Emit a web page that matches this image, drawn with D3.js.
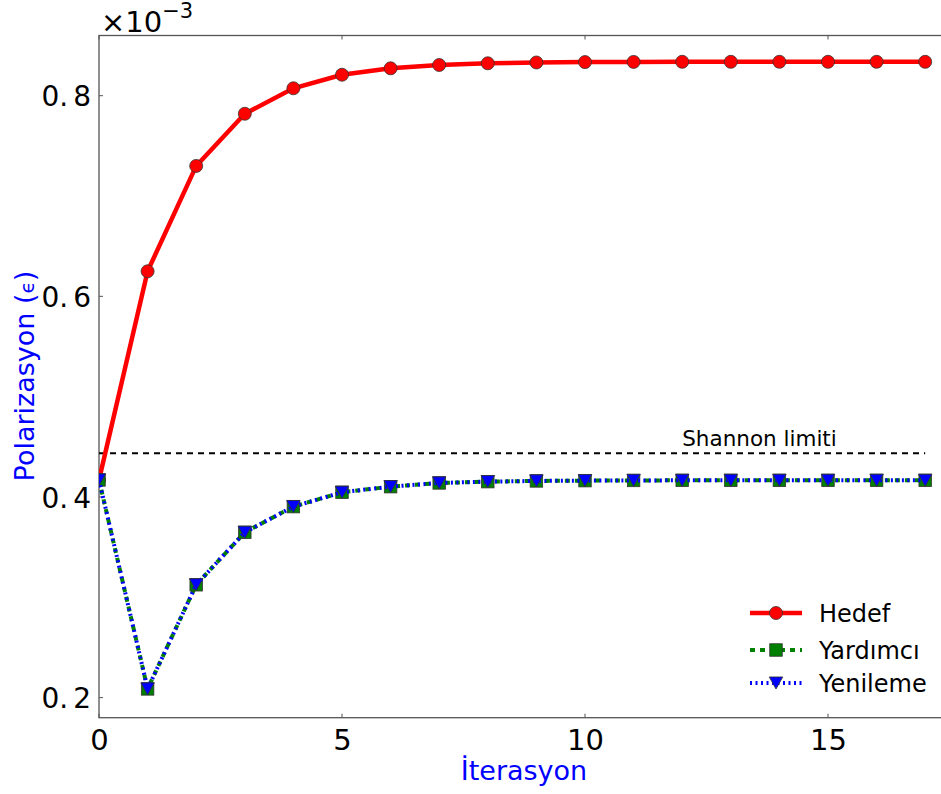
<!DOCTYPE html>
<html>
<head>
<meta charset="utf-8">
<script src="https://cdn.jsdelivr.net/npm/d3@7"></script>
<style>
  html, body { margin: 0; padding: 0; background: #fff; overflow: hidden; }
  svg { display: block; font-family: "DejaVu Sans", sans-serif; }
</style>
</head>
<body>
<script>
// Iteration index and polarization values (units of 1e-3)
const iterations = d3.range(0, 18);
const hedef = [0.417, 0.625, 0.730, 0.782, 0.8074, 0.8209, 0.8273, 0.8306, 0.8323, 0.8331, 0.8335, 0.8337, 0.8338, 0.8338, 0.8338, 0.8338, 0.8338, 0.8338];
const yardimci = [0.417, 0.2087, 0.3125, 0.3648, 0.3904, 0.4047, 0.4103, 0.4140, 0.4153, 0.4160, 0.4163, 0.4165, 0.4166, 0.4166, 0.4166, 0.4166, 0.4166, 0.4166];
const yenileme = [0.417, 0.2087, 0.3125, 0.3648, 0.3904, 0.4047, 0.4103, 0.4140, 0.4153, 0.4160, 0.4163, 0.4165, 0.4166, 0.4166, 0.4166, 0.4166, 0.4166, 0.4166];
const shannonLimit = 0.4436;
const xTicks = [0, 5, 10, 15];
const yTicks = [0.2, 0.4, 0.6, 0.8];
const seriesNames = ["Hedef", "Yardımcı", "Yenileme"];

const W = 941, H = 794;
const svg = d3.select("body").append("svg").attr("width", W).attr("height", H);

const plotLeft = 99, plotTop = 35.5, plotBottom = 717.7;
const x = d3.scaleLinear().domain([0, 18]).range([plotLeft, plotLeft + 18 * 48.6]);
const y = d3.scaleLinear().domain([0.18, 0.86]).range([plotBottom, plotTop]);
const plotRight = x(18);

svg.append("defs").append("clipPath").attr("id", "plotclip")
  .append("rect").attr("x", plotLeft).attr("y", plotTop)
  .attr("width", plotRight - plotLeft).attr("height", plotBottom - plotTop);

// Frame
svg.append("rect").attr("x", plotLeft).attr("y", plotTop)
  .attr("width", plotRight - plotLeft).attr("height", plotBottom - plotTop)
  .attr("fill", "none").attr("stroke", "#555").attr("stroke-width", 1.3);

// Inward ticks on all sides
const tickLen = 4;
const tk = svg.append("g").attr("stroke", "#555").attr("stroke-width", 1);
xTicks.forEach(t => {
  tk.append("line").attr("x1", x(t)).attr("x2", x(t)).attr("y1", plotBottom).attr("y2", plotBottom - tickLen);
  tk.append("line").attr("x1", x(t)).attr("x2", x(t)).attr("y1", plotTop).attr("y2", plotTop + tickLen);
});
yTicks.forEach(t => {
  tk.append("line").attr("x1", plotLeft).attr("x2", plotLeft + tickLen).attr("y1", y(t)).attr("y2", y(t));
  tk.append("line").attr("x1", plotRight).attr("x2", plotRight - tickLen).attr("y1", y(t)).attr("y2", y(t));
});

// Tick labels
const xAxis = d3.axisBottom(x).tickValues(xTicks).tickSize(0).tickPadding(0).tickFormat(d3.format("d"));
const gx = svg.append("g").attr("transform", `translate(0,${plotBottom})`).call(xAxis);
gx.select(".domain").remove();
gx.selectAll("text").attr("font-size", 29).attr("fill", "#000")
  .attr("font-family", "DejaVu Sans").attr("dy", 0).attr("y", 32);

const yAxis = d3.axisLeft(y).tickValues(yTicks).tickSize(0).tickPadding(0);
const gy = svg.append("g").attr("transform", `translate(${plotLeft},0)`).call(yAxis);
gy.select(".domain").remove();
gy.selectAll("text").each(function(d) {
  const s = d3.format(".1f")(d).split(".");
  const t = d3.select(this).text(null)
    .attr("x", -8).attr("dy", "0.36em").attr("font-size", 28).attr("fill", "#000")
    .attr("font-family", "DejaVu Sans").attr("text-anchor", "end");
  t.append("tspan").text(s[0] + ".");
  t.append("tspan").attr("dx", 5).text(s[1]);
});

// Scale factor
const sf = svg.append("text").attr("x", 101).attr("y", 32).attr("font-size", 29).attr("fill", "#000");
sf.append("tspan").text("×10");
sf.append("tspan").attr("dy", -14).attr("font-size", 21).text("−3");

// Axis labels
svg.append("text").attr("x", 524).attr("y", 780).attr("text-anchor", "middle")
  .attr("font-size", 27).attr("fill", "#0000ff").text("İterasyon");
const yl = svg.append("text").attr("transform", "translate(34,376) rotate(-90)").attr("text-anchor", "middle")
  .attr("font-size", 27).attr("fill", "#0000ff");
yl.append("tspan").text("Polarizasyon (");
yl.append("tspan").attr("font-size", 20).text("ϵ");
yl.append("tspan").text(")");

// Plot content
const plot = svg.append("g").attr("clip-path", "url(#plotclip)");

plot.append("line").attr("x1", x(0)).attr("x2", x(17)).attr("y1", y(shannonLimit)).attr("y2", y(shannonLimit))
  .attr("stroke", "#000").attr("stroke-width", 2).attr("stroke-dasharray", "6,5");
svg.append("text").attr("x", x(12)).attr("y", y(shannonLimit) - 7).attr("font-size", 21.5).attr("fill", "#000")
  .text("Shannon limiti");

const line = d3.line().x((d, i) => x(iterations[i])).y(d => y(d));

const sq = 12.5, tri = 13.5;
const markerFns = {
  circle: (g, cx, cy, c) => g.append("circle").attr("cx", cx).attr("cy", cy).attr("r", 6.5)
    .attr("fill", c).attr("stroke", "#333").attr("stroke-width", 0.8),
  square: (g, cx, cy, c) => g.append("rect").attr("x", cx - sq / 2).attr("y", cy - sq / 2).attr("width", sq).attr("height", sq)
    .attr("fill", c).attr("stroke", "#333").attr("stroke-width", 0.8),
  tridown: (g, cx, cy, c) => g.append("path")
    .attr("d", `M${cx - tri / 2},${cy - tri * 0.45}L${cx + tri / 2},${cy - tri * 0.45}L${cx},${cy + tri * 0.45}Z`)
    .attr("fill", c).attr("stroke", "#333").attr("stroke-width", 0.8)
};

const series = [
  { name: seriesNames[0], values: hedef, color: "#ff0000", dash: null, marker: "circle", width: 4.5 },
  { name: seriesNames[1], values: yardimci, color: "#008000", dash: "5,5", marker: "square", width: 4 },
  { name: seriesNames[2], values: yenileme, color: "#0000ff", dash: "2,3.5", marker: "tridown", width: 4 }
];

series.forEach(s => {
  const g = plot.append("g");
  g.append("path").attr("d", line(s.values)).attr("fill", "none").attr("stroke", s.color)
    .attr("stroke-width", s.width).attr("stroke-dasharray", s.dash);
  s.values.forEach((v, i) => markerFns[s.marker](g, x(iterations[i]), y(v), s.color));
});

// Legend
const legY = [613, 650, 683];
series.forEach((s, i) => {
  const g = svg.append("g");
  g.append("line").attr("x1", 750).attr("x2", 802).attr("y1", legY[i]).attr("y2", legY[i])
    .attr("stroke", s.color).attr("stroke-width", s.width).attr("stroke-dasharray", s.dash);
  markerFns[s.marker](g, 776, legY[i], s.color);
  g.append("text").attr("x", 819).attr("y", legY[i]).attr("dy", "0.36em").attr("font-size", 24)
    .attr("fill", "#000").text(s.name);
});
</script>
</body>
</html>
